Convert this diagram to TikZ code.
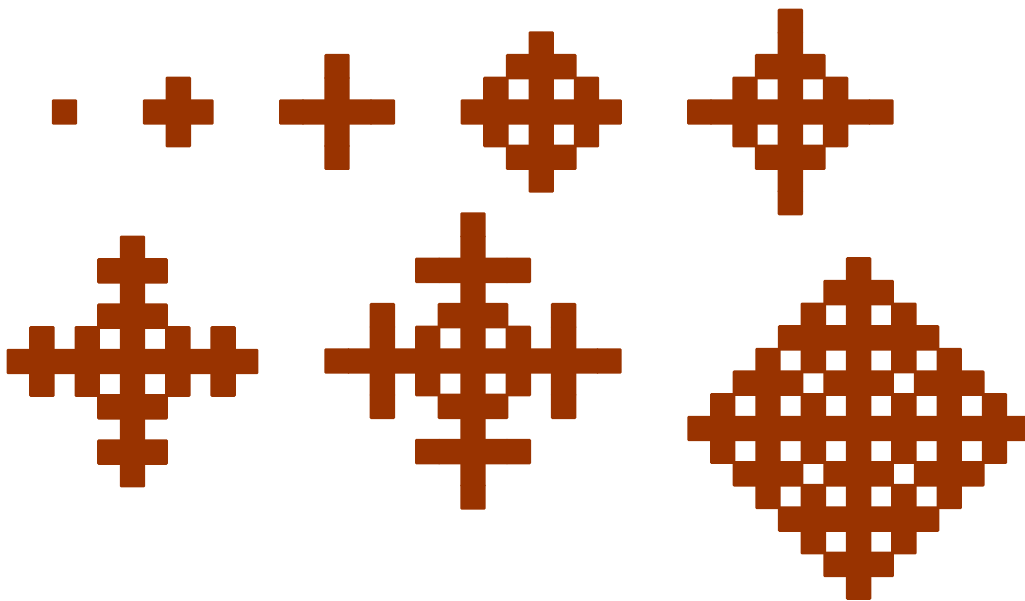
\documentclass[tikz,border=0pt]{standalone}
\definecolor{rust}{RGB}{153,51,0}
\tikzset{cell/.style={fill=rust,rounded corners=1.2pt}}
\newcommand\cellat[4]{\fill[cell] ({#1+(#3)*22.65-12.7},{#2+(#4)*22.65-12.7}) rectangle ++(25.4,25.4);}
\newcommand\axiscells[3]{\foreach \k in {-#3,...,#3}{\cellat{#1}{#2}{\k}{0}\cellat{#1}{#2}{0}{\k}}}
\newcommand\symcells[3]{\foreach \a/\b in {#3}{\foreach \sx in {-1,1}{\foreach \sy in {-1,1}{\cellat{#1}{#2}{\sx*\a}{\sy*\b}}}}}
\begin{document}
\begin{tikzpicture}[x=1pt,y=-1pt]
\useasboundingbox (0,0) rectangle (1025,601);
\clip (0,0) rectangle (1025,601);
% generation 0
\cellat{64.5}{112}{0}{0}
% generation 1
\axiscells{178.3}{112}{1}
% generation 2
\axiscells{337}{112}{2}
% generation 3
\axiscells{541.2}{112}{3}
\symcells{541.2}{112}{1/2,2/1}
% generation 4
\axiscells{790.3}{112}{4}
\symcells{790.3}{112}{1/2,2/1}
% generation 5
\axiscells{132.5}{361.5}{5}
\symcells{132.5}{361.5}{1/2,2/1,1/4,4/1}
% generation 6
\axiscells{473}{361}{6}
\symcells{473}{361}{1/2,2/1,4/1,4/2,1/4,2/4}
% generation 7
\axiscells{858.6}{428.5}{7}
\symcells{858.6}{428.5}{2/1,4/1,6/1,1/2,3/2,4/2,5/2,2/3,4/3,1/4,2/4,3/4,2/5,1/6}
\end{tikzpicture}
\end{document}
